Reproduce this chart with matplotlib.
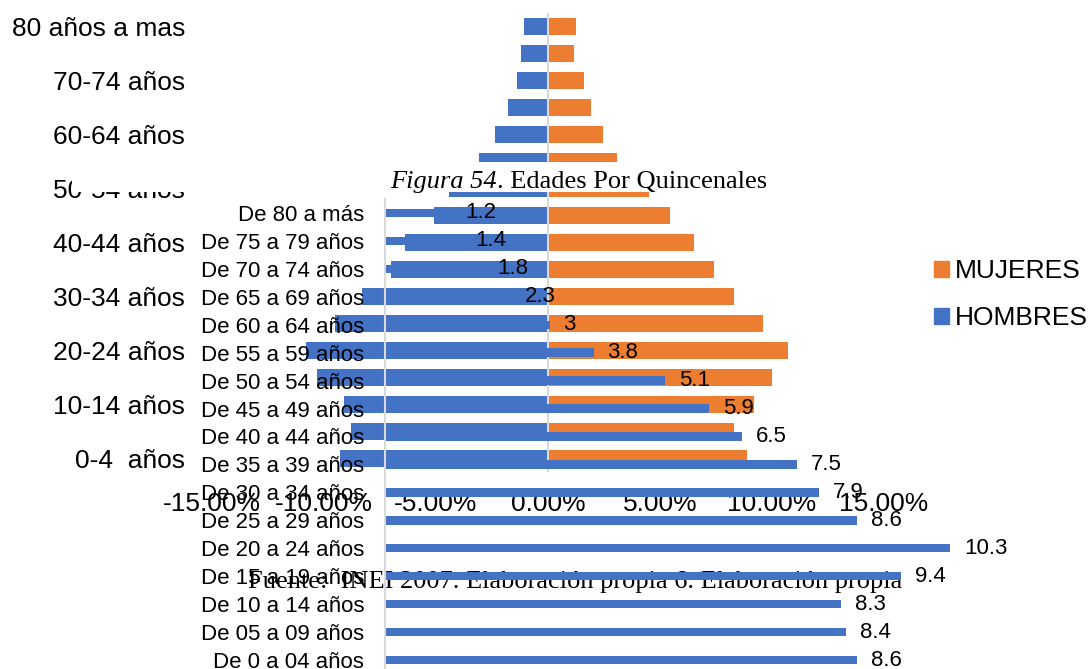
import matplotlib.pyplot as plt
from matplotlib.patches import Patch, Rectangle

plt.rcParams['font.family'] = ['Liberation Sans', 'DejaVu Sans']

W, H = 1089, 669
azul = '#4472C4'
naranja = '#ED7D31'
gris = '#D9D9D9'

# piramide de fondo (de 0-4 hacia 80 a mas)
grupos = ['0-4  años', '5-9 años', '10-14 años', '15-19 años', '20-24 años',
          '25-29 años', '30-34 años', '35-39 años', '40-44 años', '45-49 años',
          '50-54 años', '55-59 años', '60-64 años', '65-69 años', '70-74 años',
          '75-79 años', '80 años a mas']
hombres = [9.3, 8.8, 9.1, 10.3, 10.8, 9.5, 8.3, 7.0, 6.4, 5.1, 4.4, 3.1, 2.35,
           1.8, 1.4, 1.2, 1.05]
mujeres = [8.9, 8.3, 9.2, 10.0, 10.7, 9.6, 8.3, 7.4, 6.5, 5.45, 4.5, 3.1, 2.45,
           1.9, 1.6, 1.15, 1.25]
pct_ticks = [-15, -10, -5, 0, 5, 10, 15]
pct_labels = ['-15.00%', '-10.00%', '-5.00%', '0.00%', '5.00%', '10.00%', '15.00%']

# grafico de barras superpuesto (de arriba hacia abajo)
edades = ['De 80 a más', 'De 75 a 79 años', 'De 70 a 74 años', 'De 65 a 69 años',
          'De 60 a 64 años', 'De 55 a 59 años', 'De 50 a 54 años', 'De 45 a 49 años',
          'De 40 a 44 años', 'De 35 a 39 años', 'De 30 a 34 años', 'De 25 a 29 años',
          'De 20 a 24 años', 'De 15 a 19 años', 'De 10 a 14 años', 'De 05 a 09 años',
          'De 0 a 04 años']
valores = [1.2, 1.4, 1.8, 2.3, 3, 3.8, 5.1, 5.9, 6.5, 7.5, 7.9, 8.6, 10.3, 9.4,
           8.3, 8.4, 8.6]


def caja(l, t, r, b):
    return [l / W, 1 - b / H, (r - l) / W, (b - t) / H]


fig = plt.figure(figsize=(W / 100, H / 100), dpi=100)

ax1 = fig.add_axes(caja(212, 13, 884, 472))
ax1.set_zorder(1)
pos = range(len(grupos))
ax1.barh(pos, [-v for v in hombres], height=0.65, color=azul)
ax1.barh(pos, mujeres, height=0.65, color=naranja)
ax1.axvline(0, color=gris, lw=1.5)
ax1.set_xlim(-15, 15)
ax1.set_ylim(-0.5, 16.5)
for s in ax1.spines.values():
    s.set_visible(False)
ax1.set_xticks(pct_ticks, pct_labels, fontsize=19)
ax1.set_yticks(range(0, 17, 2), grupos[::2], fontsize=19)
ax1.tick_params(axis='x', length=0, pad=14.4)
ax1.tick_params(axis='y', length=0, pad=19.4)

fig.legend(handles=[Patch(color=naranja, label='MUJERES'),
                    Patch(color=azul, label='HOMBRES')],
           loc='upper left', bbox_to_anchor=(934 / W, 1 - 259 / H),
           frameon=False, fontsize=19, borderpad=0, borderaxespad=0,
           handlelength=0.55, handleheight=0.55, handletextpad=0.25,
           labelspacing=0.87)

# recuadro blanco del titulo
fig.add_artist(Rectangle((72 / W, 1 - 192 / H), (780 - 72) / W, 30 / H,
                         transform=fig.transFigure, facecolor='white',
                         edgecolor='none', zorder=1.5))

ax2 = fig.add_axes(caja(385, 199, 1089, 674))
ax2.set_zorder(2)
ax2.patch.set_alpha(0)
barras = ax2.barh(range(len(edades)), valores, height=0.3, color=azul)
ax2.bar_label(barras, fmt='%g', padding=10, fontsize=16)
ax2.set_ylim(16.5, -0.5)
ax2.set_xlim(0, (1089 - 385) / 54.9)
for k in ['top', 'right', 'bottom']:
    ax2.spines[k].set_visible(False)
ax2.spines['left'].set_color(gris)
ax2.spines['left'].set_linewidth(1.5)
ax2.set_xticks([])
ax2.set_yticks(range(len(edades)), edades, fontsize=16)
ax2.tick_params(axis='y', length=0, pad=15)

t1 = fig.text(390 / W, 1 - 188 / H, 'Figura 54', family='Liberation Serif',
              fontstyle='italic', fontsize=19, va='baseline', zorder=3)
ax2.annotate('. Edades Por Quincenales', xy=(1, 0), xycoords=t1,
             family='Liberation Serif', fontsize=19, va='bottom', ha='left',
             annotation_clip=False)

fig.text(248 / W, 1 - 588 / H,
         'Fuente:  INEI 2007. Elaboración propia 6. Elaboración propia',
         family='Liberation Serif', fontsize=19, va='baseline', zorder=1.8)

fig.savefig('out.png', dpi=100)
